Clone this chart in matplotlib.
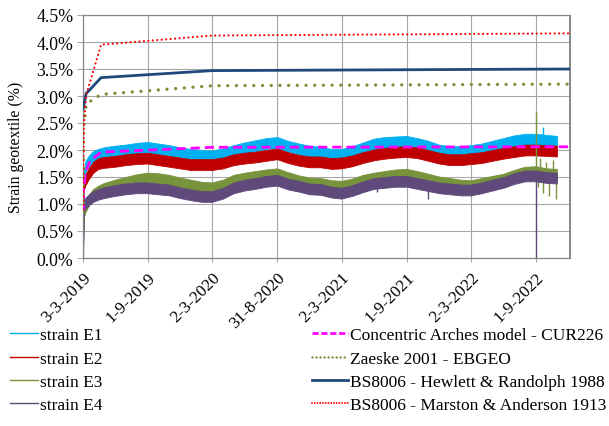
import matplotlib
matplotlib.use("Agg")
import matplotlib.pyplot as plt
import matplotlib.dates as mdates
from matplotlib.lines import Line2D
import numpy as np

plt.rcParams["font.family"] = ["Liberation Serif", "DejaVu Serif"]

# ---- measured strains (monthly readings of the hourly logger records) ----
strain_dates = [
    "2019-03-03", "2019-03-05", "2019-03-10", "2019-03-20", "2019-04-01",
    "2019-04-15", "2019-05-01", "2019-06-01", "2019-07-01", "2019-08-01",
    "2019-09-01", "2019-10-01", "2019-11-01", "2019-12-01", "2020-01-01",
    "2020-02-01", "2020-03-01", "2020-04-01", "2020-05-01", "2020-06-01",
    "2020-07-01", "2020-08-01", "2020-09-01", "2020-10-01", "2020-11-01",
    "2020-12-01", "2021-01-01", "2021-02-01", "2021-03-01", "2021-04-01",
    "2021-05-01", "2021-06-01", "2021-07-01", "2021-08-01", "2021-09-01",
    "2021-10-01", "2021-11-01", "2021-12-01", "2022-01-01", "2022-02-01",
    "2022-03-01", "2022-04-01", "2022-05-01", "2022-06-01", "2022-07-01",
    "2022-08-01", "2022-09-01", "2022-10-01", "2022-10-30",
]
strain_e1 = [0.00, 1.45, 1.70, 1.80, 1.88, 1.92, 1.95, 1.98, 2.00, 2.03,
             2.05, 2.02, 1.99, 1.95, 1.92, 1.90, 1.89, 1.93, 1.99, 2.04,
             2.08, 2.12, 2.14, 2.07, 2.02, 1.98, 1.96, 1.92, 1.92, 1.97,
             2.04, 2.11, 2.14, 2.15, 2.16, 2.12, 2.07, 2.00, 1.97, 1.97,
             1.99, 2.02, 2.07, 2.12, 2.17, 2.20, 2.20, 2.18, 2.16]
strain_e2 = [0.90, 1.35, 1.45, 1.57, 1.68, 1.75, 1.77, 1.79, 1.82, 1.84,
             1.85, 1.82, 1.79, 1.76, 1.73, 1.73, 1.73, 1.76, 1.82, 1.85,
             1.87, 1.90, 1.93, 1.86, 1.81, 1.78, 1.78, 1.75, 1.76, 1.80,
             1.86, 1.91, 1.94, 1.96, 1.97, 1.95, 1.90, 1.85, 1.82, 1.82,
             1.84, 1.86, 1.90, 1.94, 1.97, 2.00, 2.00, 1.99, 1.98]
strain_e3 = [0.30, 0.85, 0.95, 1.08, 1.18, 1.24, 1.29, 1.35, 1.40, 1.45,
             1.48, 1.47, 1.44, 1.39, 1.35, 1.31, 1.30, 1.35, 1.44, 1.48,
             1.51, 1.54, 1.56, 1.49, 1.43, 1.39, 1.38, 1.34, 1.33, 1.37,
             1.44, 1.48, 1.51, 1.54, 1.55, 1.51, 1.46, 1.41, 1.38, 1.35,
             1.34, 1.38, 1.42, 1.46, 1.53, 1.59, 1.60, 1.56, 1.55]
strain_e4 = [0.00, 0.95, 1.02, 1.08, 1.14, 1.18, 1.21, 1.25, 1.28, 1.30,
             1.30, 1.28, 1.26, 1.21, 1.17, 1.14, 1.14, 1.20, 1.30, 1.35,
             1.38, 1.42, 1.44, 1.37, 1.33, 1.28, 1.27, 1.22, 1.20, 1.25,
             1.32, 1.38, 1.40, 1.42, 1.42, 1.38, 1.34, 1.30, 1.28, 1.26,
             1.26, 1.30, 1.35, 1.40, 1.47, 1.52, 1.52, 1.49, 1.48]
# half range of the scatter of the individual readings around each value
spread_e1 = 0.10
spread_e2 = 0.10
spread_e3 = 0.10
spread_e4 = 0.10

# isolated outlier readings: date, reading
outlier_e1_dates = ["2022-09-20"]
outlier_e1_values = [2.43]
outlier_e3_dates = ["2022-09-01", "2022-09-06", "2022-09-12", "2022-09-20",
                    "2022-09-28", "2022-10-08", "2022-10-18", "2022-10-27"]
outlier_e3_values = [2.71, 1.32, 1.85, 1.20, 1.78, 1.15, 1.82, 1.10]
outlier_e4_dates = ["2021-06-10", "2021-11-01", "2022-09-01"]
outlier_e4_values = [1.22, 1.10, 0.00]

# ---- design models ----
model_dates = ["2019-03-03", "2019-03-05", "2019-03-12", "2019-03-23",
               "2019-04-23", "2020-03-02", "2022-12-06"]
model_cur226 = [0.85, 1.30, 1.62, 1.80, 1.96, 2.05, 2.06]
model_ebgeo = [0.70, 2.45, 2.85, 2.90, 3.03, 3.19, 3.22]
model_hewlett = [2.76, 2.82, 3.05, 3.12, 3.34, 3.47, 3.50]
model_marston = [0.90, 2.40, 3.02, 3.26, 3.95, 4.12, 4.16]

tick_dates = ["2019-03-03", "2019-09-01", "2020-03-02", "2020-08-31",
              "2021-03-02", "2021-09-01", "2022-03-02", "2022-09-01"]
tick_labels = ["3-3-2019", "1-9-2019", "2-3-2020", "31-8-2020",
               "2-3-2021", "1-9-2021", "2-3-2022", "1-9-2022"]
x_start, x_end = "2019-03-03", "2022-12-06"


def d(seq):
    return mdates.date2num(np.array(seq, dtype="datetime64[D]"))


fig = plt.figure(figsize=(6.09, 4.27), dpi=100)
ax = fig.add_axes([83 / 609, 1 - 259 / 427, 487 / 609, 243 / 427])

c_e1, c_e2, c_e3, c_e4 = "#00b0f0", "#c00000", "#77933c", "#604a7b"

xs = d(strain_dates)
series = [
    (strain_e1, spread_e1, c_e1, outlier_e1_dates, outlier_e1_values),
    (strain_e2, spread_e2, c_e2, [], []),
    (strain_e3, spread_e3, c_e3, outlier_e3_dates, outlier_e3_values),
    (strain_e4, spread_e4, c_e4, outlier_e4_dates, outlier_e4_values),
]
for vals, spread, col, od, ov in series:
    v = np.array(vals)
    ax.fill_between(xs, v - spread, v + spread, color=col, lw=0.6,
                    edgecolor=col, zorder=2)
    if od:
        ox = d(od)
        base = np.interp(ox, xs, v)
        ax.vlines(ox, np.minimum(base, ov), np.maximum(base, ov), colors=col,
                  lw=1.0, zorder=2)

mx = d(model_dates)
ax.plot(mx, model_cur226, color="#ff00ff", lw=2.0, ls=(0, (3.3, 1.8)),
        zorder=3)
ax.plot(mx, model_ebgeo, color="#77933c", lw=2.4, ls=(0, (0.01, 2.6)),
        dash_capstyle="round", zorder=3)
ax.plot(mx, model_hewlett, color="#1f497d", lw=2.0, zorder=3)
ax.plot(mx, model_marston, color="#ff0000", lw=1.6, ls=(0, (0.01, 2.0)),
        dash_capstyle="round", zorder=3)

ax.set_xlim(d([x_start])[0], d([x_end])[0])
ax.set_ylim(0, 4.5)
yt = np.arange(0, 4.51, 0.5)
ax.set_yticks(yt)
ax.set_yticklabels([f"{t:.1f}%" for t in yt])
ax.set_xticks(d(tick_dates))
ax.set_xticklabels(tick_labels, rotation=45, ha="right",
                   rotation_mode="anchor")
ax.tick_params(axis="y", labelsize=12.8, length=4, color="#a6a6a6",
               width=0.8, pad=3)
ax.tick_params(axis="x", labelsize=12.3, length=3, color="#a6a6a6",
               width=0.8, pad=5)
ax.grid(True, color="#a6a6a6", lw=0.8, zorder=0)
ax.set_axisbelow(True)
for s in ax.spines.values():
    s.set_color("#868686")
    s.set_linewidth(0.9)
ax.spines["right"].set_linewidth(1.3)
ax.spines["right"].set_color("#7f7f7f")
ax.spines["right"].set_capstyle("butt")
ax.set_ylabel("Strain geotextile (%)", fontsize=11.3)
ax.yaxis.set_label_coords(-0.122, 0.459)

left_handles = [Line2D([], [], color=c, lw=1.0) for c in (c_e1, c_e2, c_e3, c_e4)]
left_labels = ["strain E1", "strain E2", "strain E3", "strain E4"]
right_handles = [
    Line2D([], [], color="#ff00ff", lw=2.0, ls=(0, (2.2, 1.0))),
    Line2D([], [], color="#77933c", lw=1.8, ls=(0, (0.01, 1.6)),
           dash_capstyle="round"),
    Line2D([], [], color="#1f497d", lw=2.0),
    Line2D([], [], color="#ff0000", lw=1.4, ls=(0, (0.01, 1.4)),
           dash_capstyle="round"),
]
right_labels = ["Concentric Arches model - CUR226", "Zaeske 2001 - EBGEO",
                "BS8006 - Hewlett & Randolph 1988",
                "BS8006 - Marston & Anderson 1913"]
kw = dict(frameon=False, fontsize=12.5, labelspacing=0.42, handletextpad=0.15,
          borderpad=0, borderaxespad=0, loc="upper left")
fig.legend(left_handles, left_labels, handlelength=1.6,
           bbox_to_anchor=(10 / 609, 1 - 328 / 427), **kw)
fig.legend(right_handles, right_labels, handlelength=2.05,
           bbox_to_anchor=(312 / 609, 1 - 328 / 427), **kw)

fig.savefig("out.png", dpi=100)
